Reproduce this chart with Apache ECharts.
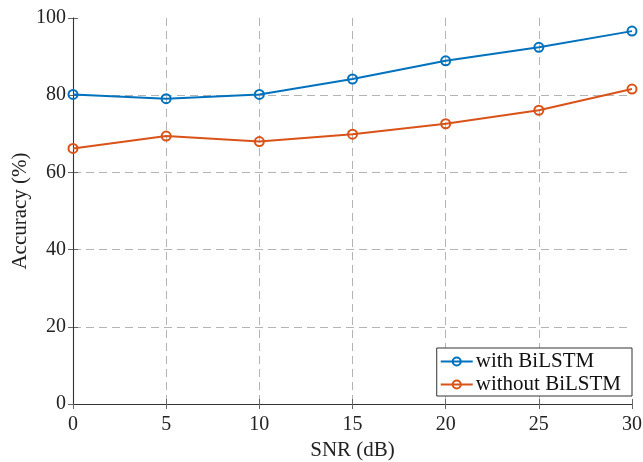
<!DOCTYPE html>
<html>
<head>
<meta charset="utf-8">
<script src="https://cdn.jsdelivr.net/npm/echarts@6/dist/echarts.min.js"></script>
<style>
  html, body { margin: 0; padding: 0; background: #fff; }
  #chart { width: 643px; height: 462px; }
</style>
</head>
<body>
<div id="chart"></div>
<script>
// SNR values (dB)
const snr = [0, 5, 10, 15, 20, 25, 30];
// accuracy (%)
const withBiLSTM = [80.2, 79.1, 80.2, 84.2, 88.9, 92.4, 96.6];
const withoutBiLSTM = [66.2, 69.4, 68.0, 69.9, 72.6, 76.1, 81.6];
const seriesNames = ['with BiLSTM', 'without BiLSTM'];
const colors = ['#0072BD', '#D95319'];

const font = 'Liberation Serif';
const chart = echarts.init(document.getElementById('chart'));

function pairs(ys) {
  return snr.map((x, i) => [x, ys[i]]);
}

const gridLine = {
  show: true, showMinLine: false, showMaxLine: false,
  lineStyle: { color: '#b4b4b4', type: [8, 5], width: 1 }
};
const axisLine = { show: true, lineStyle: { color: '#8a8a8a', width: 1.2 } };
const boxLine = { show: true, lineStyle: { color: '#333', width: 1 } };
const tick = { show: true, inside: true, length: 5, lineStyle: { color: '#666' } };

function lineSeries(name, ys, color) {
  return {
    name: name,
    type: 'line',
    data: pairs(ys),
    symbol: 'circle',
    symbolSize: 9,
    z: 4,
    lineStyle: { color: color, width: 2 },
    itemStyle: { color: 'rgba(255,255,255,0)', borderColor: color, borderWidth: 2 }
  };
}

const option = {
  animation: false,
  backgroundColor: '#fff',
  grid: { left: 73, right: 11, top: 18, bottom: 58, outerBoundsMode: 'none', containLabel: false },
  legend: {
    data: seriesNames,
    orient: 'vertical',
    right: 11,
    bottom: 66,
    itemWidth: 32,
    itemHeight: 10,
    itemGap: 2,
    padding: [3, 11, 1, 3],
    backgroundColor: '#fff',
    borderColor: '#333',
    borderWidth: 1,
    borderRadius: 0,
    textStyle: { fontFamily: font, fontSize: 21, color: '#111', padding: [0, 0, 0, -2] }
  },
  xAxis: [{
    type: 'value',
    min: 0, max: 30, interval: 5,
    name: 'SNR (dB)',
    nameLocation: 'middle',
    nameGap: 36,
    nameTextStyle: { fontFamily: font, fontSize: 21, color: '#222' },
    axisLine: axisLine,
    axisTick: tick,
    axisLabel: { fontFamily: font, fontSize: 20, color: '#222', margin: 11 },
    splitLine: gridLine
  }, {
    type: 'value', position: 'top',
    min: 0, max: 30, interval: 5,
    z: 3,
    axisLine: boxLine,
    axisTick: tick,
    axisLabel: { show: false },
    splitLine: { show: false }
  }],
  yAxis: [{
    type: 'value',
    min: 0, max: 100, interval: 20,
    name: 'Accuracy (%)',
    nameLocation: 'middle',
    nameGap: 42,
    nameMoveOverlap: false,
    nameTextStyle: { fontFamily: font, fontSize: 21, color: '#222' },
    axisLine: axisLine,
    axisTick: tick,
    axisLabel: { fontFamily: font, fontSize: 20, color: '#222', margin: 7 },
    splitLine: gridLine
  }, {
    type: 'value', position: 'right',
    min: 0, max: 100, interval: 20,
    z: 3,
    axisLine: boxLine,
    axisTick: tick,
    axisLabel: { show: false },
    splitLine: { show: false }
  }],
  series: [
    lineSeries(seriesNames[0], withBiLSTM, colors[0]),
    lineSeries(seriesNames[1], withoutBiLSTM, colors[1])
  ]
};

chart.setOption(option);
</script>
</body>
</html>
